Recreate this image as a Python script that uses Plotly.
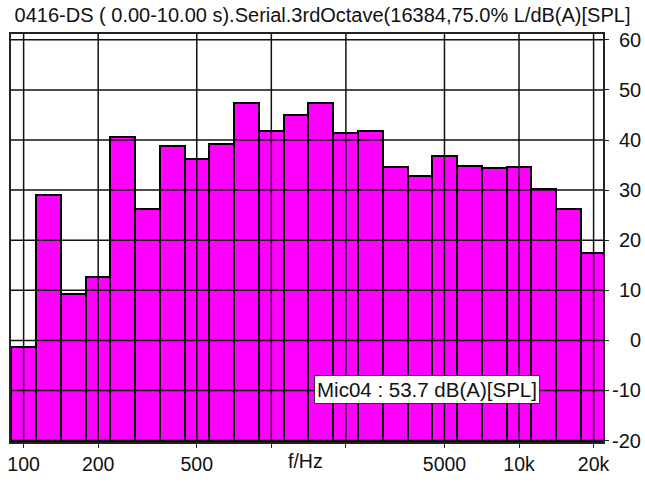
import numpy as np
import plotly.graph_objects as go

# 1/3-octave band centre frequencies (Hz)
freqs = [100, 125, 160, 200, 250, 315, 400, 500, 630, 800, 1000, 1250, 1600,
         2000, 2500, 3150, 4000, 5000, 6300, 8000, 10000, 12500, 16000, 20000]
# Levels dB(A)
levels = [-1.4, 29.0, 9.2, 12.7, 40.7, 26.3, 38.8, 36.2, 39.3, 47.4, 41.8, 44.9, 47.3,
          41.4, 41.8, 34.6, 32.8, 36.9, 34.9, 34.5, 34.6, 30.2, 26.3, 17.4]

grid_freqs = [100, 200, 500, 1000, 2000, 5000, 10000, 20000]
grid_text = ["100", "200", "500", "", "", "5000", "10k", "20k"]
y_ticks = [60, 50, 40, 30, 20, 10, 0, -10, -20]

title_text = "0416-DS ( 0.00-10.00 s).Serial.3rdOctave(16384,75.0% L/dB(A)[SPL]"
total_text = "Mic04 : 53.7 dB(A)[SPL]"
x_title = "f/Hz"

FONT = "Liberation Sans, Arial, sans-serif"

# band positions in log10 units (exact base-10 third-octave centres)
xpos = [round(10 * np.log10(f)) / 10 for f in freqs]
band_w = 0.1
ybottom = -20.29
ytop = 61.17

fig = go.Figure()
fig.add_trace(go.Bar(
    x=xpos,
    y=[v - ybottom for v in levels],
    base=ybottom,
    width=band_w,
    marker=dict(color="#FF00FF", line=dict(color="black", width=2)),
    hoverinfo="skip",
))

gx = [float(np.log10(f)) for f in grid_freqs]
shapes = []
for g in gx:
    shapes.append(dict(type="line", xref="x", yref="paper", x0=g, x1=g, y0=0, y1=1,
                       line=dict(color="#111", width=1.5), layer="above"))
for yv in y_ticks:
    shapes.append(dict(type="line", xref="paper", yref="y", x0=0, x1=1, y0=yv, y1=yv,
                       line=dict(color="#111", width=1.5), layer="above"))

annotations = []
for yv in y_ticks:
    annotations.append(dict(text=str(yv), xref="paper", yref="y", x=1, y=yv,
                            xanchor="right", yanchor="middle", xshift=40, showarrow=False,
                            font=dict(family=FONT, size=20, color="#111")))
annotations.append(dict(text=x_title, xref="paper", yref="paper", x=0.4975, y=0,
                        xanchor="center", yanchor="top", yshift=-6, showarrow=False,
                        font=dict(family=FONT, size=19.5, color="#111")))
annotations.append(dict(text=total_text, xref="paper", yref="y", x=0.511, y=-9.77,
                        xanchor="left", yanchor="middle", showarrow=False,
                        bgcolor="white", bordercolor="#333", borderwidth=1, borderpad=2,
                        font=dict(family=FONT, size=20.5, color="#111")))

xmin = 1.949
xmax = 4.339

fig.update_layout(
    width=645, height=482,
    margin=dict(l=7, r=42, t=34, b=30),
    paper_bgcolor="white", plot_bgcolor="white",
    showlegend=False,
    bargap=0,
    title=dict(text=title_text, x=0.5, xanchor="center", y=0.968, yanchor="middle",
               font=dict(family=FONT, size=20, color="#111")),
    xaxis=dict(range=[xmin, xmax], tickmode="array", tickvals=gx, ticktext=grid_text,
               showgrid=False, zeroline=False, showline=True, mirror=True,
               linecolor="#222", linewidth=1.5, ticks="outside", ticklen=4,
               tickcolor="#222", tickfont=dict(family=FONT, size=19.5, color="#111")),
    yaxis=dict(range=[ybottom, ytop], tickmode="array", tickvals=y_ticks,
               showticklabels=False, side="right",
               showgrid=False, zeroline=False, showline=True, mirror=True,
               linecolor="#222", linewidth=1.5, ticks="outside", ticklen=4,
               tickcolor="#222"),
    shapes=shapes,
    annotations=annotations,
)

fig.write_html("out.html", config={"displayModeBar": False},
               post_script="document.body.style.margin='0';document.body.style.overflow='hidden';")
